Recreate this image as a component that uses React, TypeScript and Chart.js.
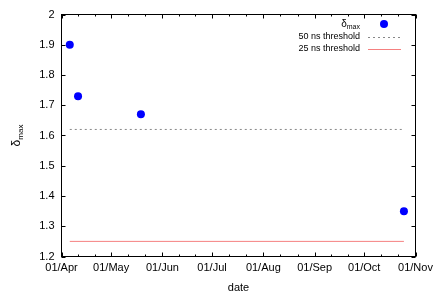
import React, { useEffect, useRef } from "react";
import { Chart, registerables } from "chart.js";

Chart.register(...registerables);

// ---- data ----
const originDate = "2016-04-01";
const tickDates = ["2016-04-01", "2016-05-01", "2016-06-01", "2016-07-01", "2016-08-01", "2016-09-01", "2016-10-01", "2016-11-01"];
const tickLabels = ["01/Apr", "01/May", "01/Jun", "01/Jul", "01/Aug", "01/Sep", "01/Oct", "01/Nov"];
const pointDates = ["2016-04-06", "2016-04-11", "2016-05-19", "2016-10-25"];
const deltaMax = [1.9, 1.73, 1.67, 1.35];
const threshold50 = 1.62;
const threshold25 = 1.25;
const yTicks = [1.2, 1.3, 1.4, 1.5, 1.6, 1.7, 1.8, 1.9, 2.0];
const yTickLabels = ["1.2", "1.3", "1.4", "1.5", "1.6", "1.7", "1.8", "1.9", "2"];
const legendLabels = ["δmax", "50 ns threshold", "25 ns threshold"];

const dayOf = (d: string) => (Date.parse(d) - Date.parse(originDate)) / 86400000;

const FONT = "'Liberation Sans', Arial, sans-serif";
const RED = "#f58080";
const GRAY = "#888888";

const overlay = {
  id: "gnuplotOverlay",
  afterDraw(chart: any) {
    const ctx = chart.ctx as CanvasRenderingContext2D;
    const ca = chart.chartArea;
    const xs = chart.scales.x;
    const ys = chart.scales.y;
    ctx.save();
    ctx.strokeStyle = "#000";
    ctx.lineWidth = 1;
    // border
    ctx.strokeRect(ca.left, ca.top, ca.right - ca.left, ca.bottom - ca.top);
    // y ticks
    ctx.beginPath();
    yTicks.forEach((v) => {
      const y = Math.round(ys.getPixelForValue(v)) + 0.5;
      ctx.moveTo(ca.left, y);
      ctx.lineTo(ca.left + 4, y);
      ctx.moveTo(ca.right, y);
      ctx.lineTo(ca.right - 4, y);
    });
    // x ticks major and minor
    const days = tickDates.map(dayOf);
    days.forEach((d, i) => {
      const x = Math.round(xs.getPixelForValue(d)) + 0.5;
      ctx.moveTo(x, ca.bottom);
      ctx.lineTo(x, ca.bottom - 4);
      ctx.moveTo(x, ca.top);
      ctx.lineTo(x, ca.top + 4);
      if (i < days.length - 1) {
        for (let k = 1; k < 3; k++) {
          const dm = d + ((days[i + 1] - d) * k) / 3;
          const xm = Math.round(xs.getPixelForValue(dm)) + 0.5;
          ctx.moveTo(xm, ca.bottom);
          ctx.lineTo(xm, ca.bottom - 2);
          ctx.moveTo(xm, ca.top);
          ctx.lineTo(xm, ca.top + 2);
        }
      }
    });
    ctx.stroke();

    // tick labels
    ctx.fillStyle = "#000";
    ctx.font = `11px ${FONT}`;
    ctx.textAlign = "right";
    ctx.textBaseline = "middle";
    yTicks.forEach((v, i) => {
      ctx.fillText(yTickLabels[i], ca.left - 7, ys.getPixelForValue(v));
    });
    ctx.textAlign = "center";
    ctx.textBaseline = "middle";
    days.forEach((d, i) => {
      ctx.fillText(tickLabels[i], xs.getPixelForValue(d), ca.bottom + 11);
    });
    // x title
    ctx.font = `11px ${FONT}`;
    ctx.fillText("date", (ca.left + ca.right) / 2, 288);

    // y title rotated: δ + subscript max
    ctx.save();
    ctx.translate(16, (ca.top + ca.bottom) / 2);
    ctx.rotate(-Math.PI / 2);
    ctx.textAlign = "left";
    ctx.textBaseline = "alphabetic";
    ctx.font = `12px ${FONT}`;
    const dW = ctx.measureText("δ").width;
    ctx.font = `8px ${FONT}`;
    const mW = ctx.measureText("max").width;
    const tot = dW + mW;
    ctx.font = `12px ${FONT}`;
    ctx.fillText("δ", -tot / 2, 4);
    ctx.font = `8px ${FONT}`;
    ctx.fillText("max", -tot / 2 + dW, 7);
    ctx.restore();

    // legend
    const textRight = 360;
    const rows = [24, 37, 49];
    ctx.textAlign = "right";
    ctx.textBaseline = "middle";
    // row 0: δmax
    ctx.font = `7px ${FONT}`;
    const mw = ctx.measureText("max").width;
    ctx.fillText("max", textRight, rows[0] + 3);
    ctx.font = `10px ${FONT}`;
    ctx.fillText("δ", textRight - mw, rows[0]);
    ctx.font = `9px ${FONT}`;
    ctx.fillText(legendLabels[1], textRight, rows[1]);
    ctx.fillText(legendLabels[2], textRight, rows[2]);
    // samples
    ctx.fillStyle = "#0000ff";
    ctx.beginPath();
    ctx.arc(384, rows[0], 4, 0, Math.PI * 2);
    ctx.fill();
    ctx.strokeStyle = GRAY;
    ctx.setLineDash([2, 3]);
    ctx.beginPath();
    ctx.moveTo(368, rows[1] + 0.5);
    ctx.lineTo(401, rows[1] + 0.5);
    ctx.stroke();
    ctx.setLineDash([]);
    ctx.strokeStyle = RED;
    ctx.beginPath();
    ctx.moveTo(368, rows[2] + 0.5);
    ctx.lineTo(401, rows[2] + 0.5);
    ctx.stroke();
    ctx.restore();
  },
};

export default function App() {
  const ref = useRef<HTMLCanvasElement>(null);
  useEffect(() => {
    document.body.style.margin = "0";
    const xsPts = pointDates.map(dayOf);
    const first = xsPts[0];
    const last = xsPts[xsPts.length - 1];
    const chart = new Chart(ref.current!, {
      type: "scatter",
      data: {
        datasets: [
          {
            label: legendLabels[0],
            data: xsPts.map((x, i) => ({ x, y: deltaMax[i] })),
            backgroundColor: "#0000ff",
            borderColor: "#0000ff",
            pointRadius: 4,
            pointBorderWidth: 0,
            showLine: false,
          },
          {
            label: legendLabels[1],
            data: [
              { x: first, y: threshold50 },
              { x: last, y: threshold50 },
            ],
            borderColor: GRAY,
            borderWidth: 1,
            borderDash: [2, 3],
            pointRadius: 0,
            showLine: true,
          },
          {
            label: legendLabels[2],
            data: [
              { x: first, y: threshold25 },
              { x: last, y: threshold25 },
            ],
            borderColor: RED,
            borderWidth: 1,
            pointRadius: 0,
            showLine: true,
          },
        ],
      },
      options: {
        animation: false,
        responsive: false,
        devicePixelRatio: 1,
        layout: { padding: { left: 0, top: 14.5, right: 20.5, bottom: 0 } },
        plugins: { legend: { display: false }, tooltip: { enabled: false } },
        scales: {
          x: {
            type: "linear",
            min: dayOf(tickDates[0]),
            max: dayOf(tickDates[tickDates.length - 1]),
            grid: { display: false },
            border: { display: false },
            ticks: { display: false },
            afterFit: (s: any) => {
              s.height = 48.5;
            },
          },
          y: {
            type: "linear",
            min: 1.2,
            max: 2,
            grid: { display: false },
            border: { display: false },
            ticks: { display: false },
            afterFit: (s: any) => {
              s.width = 61.5;
            },
          },
        },
      },
      plugins: [overlay],
    } as any);
    return () => chart.destroy();
  }, []);
  return (
    <div style={{ position: "absolute", left: 0, top: 0, width: 436, height: 305, background: "#fff" }}>
      <canvas ref={ref} width={436} height={305} style={{ width: 436, height: 305, display: "block" }} />
    </div>
  );
}
